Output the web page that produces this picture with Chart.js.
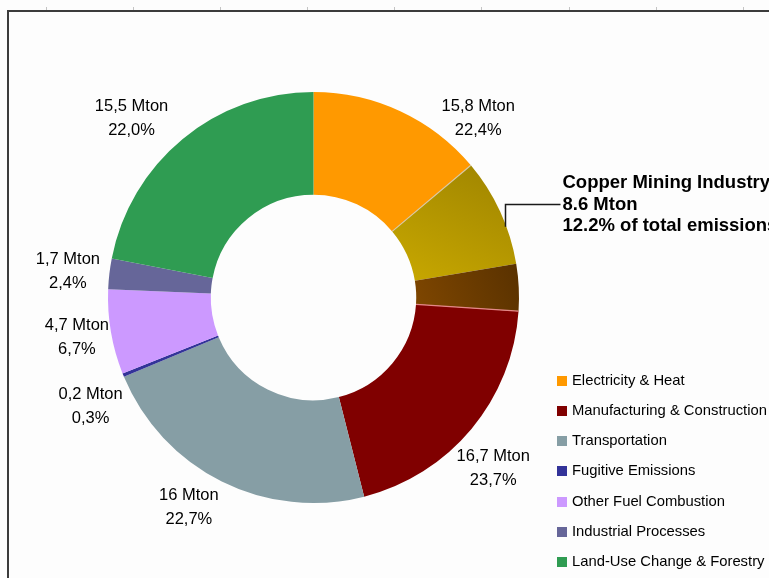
<!DOCTYPE html>
<html>
<head>
<meta charset="utf-8">
<title>CO2 emissions by sector</title>
<script src="https://cdn.jsdelivr.net/npm/chart.js@4.4.1/dist/chart.umd.min.js"></script>
<style>
    html, body { margin: 0; padding: 0; background: #fdfdfd; }
    #wrap { position: relative; width: 769px; height: 578px; overflow: hidden; }
</style>
</head>
<body>
<div id="wrap"><canvas id="emissionsChart" width="769" height="578"></canvas></div>
<script>
const sectors = [
    'Electricity & Heat',
    'Manufacturing & Construction',
    'Transportation',
    'Fugitive Emissions',
    'Other Fuel Combustion',
    'Industrial Processes',
    'Land-Use Change & Forestry'
];
const emissionsMton = [15.8, 16.7, 16, 0.2, 4.7, 1.7, 15.5];
const sectorColors = ['#ff9900', '#800000', '#869ea5', '#333399', '#cc99ff', '#666699', '#2f9c52'];

// copper mining's share inside each sector (Mton)
const copperMton = [6.0, 2.6, 0, 0, 0, 0, 0];
const copperTotalMton = 8.6;
const copperTitle = 'Copper Mining Industry';
const copperTints = [['#a38800', '#c6a600'], ['#5a3200', '#7e4600']];

// where each sector's value label sits: angle nudge (deg) and distance from centre (px)
const labelNudge = [2.4, 10.4, 4.2, -3.8, 0, -0.5, -6];
const labelRadius = [243, 248, 244, 248, 240, 247, 255];

const FONT = '"Liberation Sans", Arial, sans-serif';
const total = emissionsMton.reduce((a, b) => a + b, 0);

function mton(v) { return String(v).replace('.', ',') + ' Mton'; }
function pct(v) { return (v / total * 100).toFixed(1).replace('.', ',') + '%'; }

// split sectors into drawn segments; copper pieces sit side by side across the boundary
const segValues = [], segSector = [], segCopper = [];
let copperSeen = false;
sectors.forEach((name, s) => {
    const rest = +(emissionsMton[s] - copperMton[s]).toFixed(2);
    let parts;
    if (copperMton[s] > 0) {
        parts = copperSeen ? [[copperMton[s], true], [rest, false]] : [[rest, false], [copperMton[s], true]];
        copperSeen = true;
    } else {
        parts = [[emissionsMton[s], false]];
    }
    parts.forEach(p => {
        segValues.push(p[0]);
        segSector.push(s);
        segCopper.push(p[1]);
    });
});

function segColor(c) {
    const i = c.dataIndex;
    const s = segSector[i];
    if (!segCopper[i]) return sectorColors[s];
    const tint = copperTints[s === 0 ? 0 : 1];
    const area = c.chart.chartArea;
    if (!area) return tint[0];
    const cx = (area.left + area.right) / 2, cy = (area.top + area.bottom) / 2;
    const R = Math.min(area.width, area.height) / 2;
    let before = 0;
    for (let k = 0; k < i; k++) before += segValues[k];
    const a0 = -Math.PI / 2 + before / total * 2 * Math.PI;
    const a1 = a0 + segValues[i] / total * 2 * Math.PI;
    const g = c.chart.ctx.createLinearGradient(
        cx + R * Math.cos(a0), cy + R * Math.sin(a0),
        cx + R * 0.5 * Math.cos(a1), cy + R * 0.5 * Math.sin(a1));
    g.addColorStop(0, tint[0]);
    g.addColorStop(1, tint[1]);
    return g;
}

const frame = {
    id: 'frame',
    beforeDraw(chart) {
        const { ctx, width, height } = chart;
        ctx.save();
        ctx.fillStyle = '#fdfdfd';
        ctx.fillRect(0, 0, width, height);
        ctx.strokeStyle = '#c4c4c4';
        ctx.lineWidth = 1;
        for (let x = 45.5; x < width; x += 87.2) {
            ctx.beginPath();
            ctx.moveTo(Math.round(x) + 0.5, 7);
            ctx.lineTo(Math.round(x) + 0.5, 10);
            ctx.stroke();
        }
        ctx.strokeStyle = '#3c3c3c';
        ctx.lineWidth = 2;
        ctx.beginPath();
        ctx.moveTo(8, height);
        ctx.lineTo(8, 11);
        ctx.lineTo(width, 11);
        ctx.stroke();
        ctx.restore();
    }
};

const sectorLabels = {
    id: 'sectorLabels',
    afterDatasetsDraw(chart) {
        const { ctx } = chart;
        const arcs = chart.getDatasetMeta(0).data;
        const cx = arcs[0].x, cy = arcs[0].y;
        const R = arcs[0].outerRadius, r = arcs[0].innerRadius;
        ctx.save();

        // thin seams where the copper block meets its neighbours
        const cIdx = segCopper.map((c, i) => c ? i : -1).filter(i => i >= 0);
        const cStart = arcs[cIdx[0]].startAngle;
        const cEnd = arcs[cIdx[cIdx.length - 1]].endAngle;
        [[cStart, '#d8c8a6'], [cEnd, '#e48888']].forEach(([a, col]) => {
            ctx.strokeStyle = col;
            ctx.lineWidth = 1.2;
            ctx.beginPath();
            ctx.moveTo(cx + r * Math.cos(a), cy + r * Math.sin(a));
            ctx.lineTo(cx + R * Math.cos(a), cy + R * Math.sin(a));
            ctx.stroke();
        });

        // value + share per sector
        ctx.fillStyle = '#000';
        ctx.font = '16.5px ' + FONT;
        ctx.textAlign = 'center';
        ctx.textBaseline = 'middle';
        sectors.forEach((name, s) => {
            const own = arcs.filter((a, i) => segSector[i] === s);
            const a = (own[0].startAngle + own[own.length - 1].endAngle) / 2 + labelNudge[s] * Math.PI / 180;
            const x = cx + labelRadius[s] * Math.cos(a);
            const y = cy + labelRadius[s] * Math.sin(a);
            ctx.fillText(mton(emissionsMton[s]), x, y - 12);
            ctx.fillText(pct(emissionsMton[s]), x, y + 12);
        });

        // copper mining callout
        const ca = (cStart + cEnd) / 2 - 2 * Math.PI / 180;
        const ax = Math.round(cx + R * Math.cos(ca)) - 0.5;
        const ay = cy + R * Math.sin(ca);
        const ly = Math.round(ay - 23) + 0.5;
        ctx.strokeStyle = '#1a1a1a';
        ctx.lineWidth = 1.5;
        ctx.beginPath();
        ctx.moveTo(ax, ay);
        ctx.lineTo(ax, ly);
        ctx.lineTo(ax + 55, ly);
        ctx.stroke();
        ctx.font = 'bold 18.5px ' + FONT;
        ctx.textAlign = 'left';
        const tx = ax + 57;
        ctx.fillText(copperTitle, tx, ly - 21.5);
        ctx.fillText(String(copperTotalMton) + ' Mton', tx, ly);
        ctx.fillText((copperTotalMton / total * 100).toFixed(1) + '% of total emissions', tx, ly + 21);

        // legend
        ctx.font = '14.8px ' + FONT;
        sectors.forEach((name, s) => {
            const y = 380.5 + s * 30.3;
            ctx.fillStyle = sectorColors[s];
            ctx.fillRect(557, Math.round(y - 5), 10, 10);
            ctx.fillStyle = '#000';
            ctx.fillText(name, 572, y);
        });
        ctx.restore();
    }
};

new Chart(document.getElementById('emissionsChart').getContext('2d'), {
    type: 'doughnut',
    data: {
        labels: segSector.map((s, i) => segCopper[i] ? copperTitle : sectors[s]),
        datasets: [{
            data: segValues,
            backgroundColor: segColor,
            borderWidth: 0,
            hoverOffset: 0
        }]
    },
    options: {
        responsive: false,
        animation: false,
        events: [],
        cutout: '50%',
        layout: { padding: { left: 108, right: 250, top: 92, bottom: 75 } },
        plugins: {
            legend: { display: false },
            tooltip: { enabled: false }
        }
    },
    plugins: [frame, sectorLabels]
});
</script>
</body>
</html>
